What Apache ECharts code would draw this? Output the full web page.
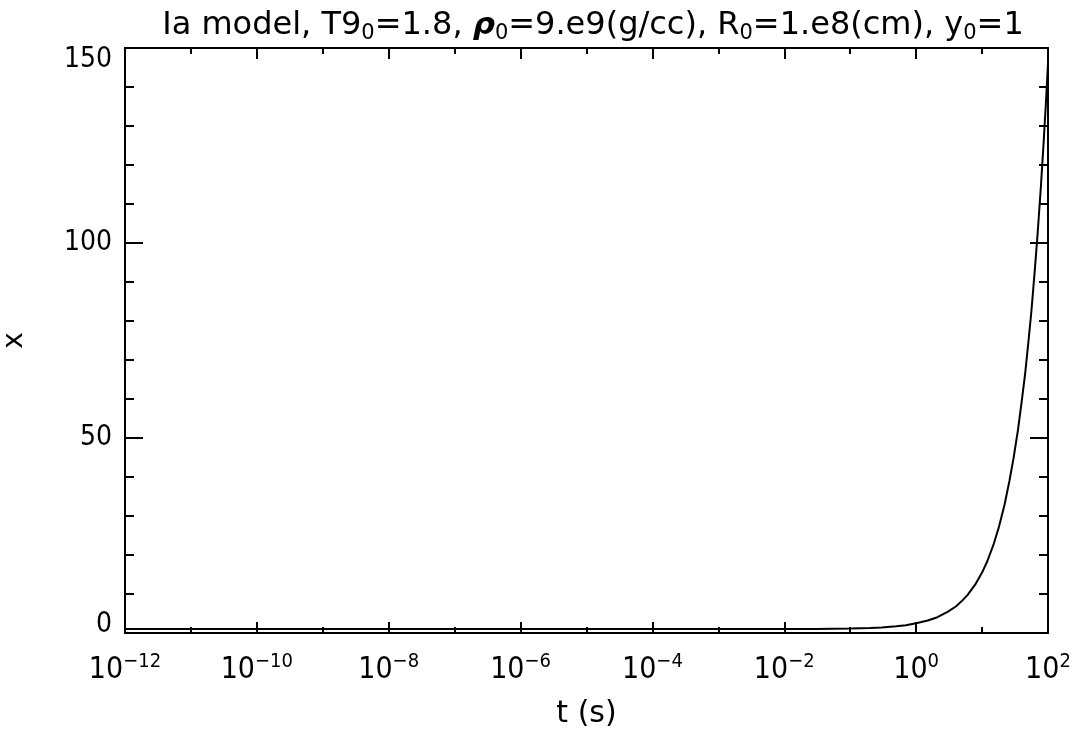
<!DOCTYPE html>
<html>
<head>
<meta charset="utf-8">
<script src="https://cdn.jsdelivr.net/npm/echarts@6/dist/echarts.min.js"></script>
<style>
html,body{margin:0;padding:0;background:#fff;}
#c{width:1077px;height:731px;}
</style>
</head>
<body>
<div id="c"></div>
<script>
// time values (s)
var tValues = [1e-12, 1e-10, 1e-8, 1e-6, 1e-4, 1e-2, 0.03, 0.1, 0.2, 0.3, 0.5, 0.7, 1, 1.5, 2, 3, 4, 5, 6, 8, 10, 12, 15, 18, 22, 26, 30, 35, 40, 45, 50, 56, 63, 70, 78, 86, 93, 100];
// x values
var xValues = [1.0, 1.0, 1.0, 1.0, 1.0, 1.01, 1.04, 1.15, 1.3, 1.44, 1.73, 2.0, 2.5, 3.2, 3.9, 5.4, 6.8, 8.3, 9.7, 12.6, 15.5, 18.4, 22.8, 27.2, 33, 39, 44.8, 52, 59.5, 66.5, 74, 82.5, 93, 103, 114.5, 126, 136, 146];
var yTicks = [0, 50, 100, 150];
var xRange = [1e-12, 1e2];
var yRange = [0, 150];

var FONT = '"DejaVu Sans Condensed", "DejaVu Sans", sans-serif';
var TFONT = '"DejaVu Sans", sans-serif';
var data = tValues.map(function (t, i) { return [t, xValues[i]]; });

function supLabel(v) {
  var e = Math.round(Math.log10(v));
  var s = e < 0 ? '\u2212' + (-e) : '' + e;
  return '{b|10}{e|' + s + '}';
}

var chart = echarts.init(document.getElementById('c'), null, {renderer: 'canvas'});
var axisLine = {show: true, onZero: false, lineStyle: {color: '#000', width: 2}};
var noLine = {show: false, onZero: false};
function xAx(pos, step, len, extra) {
  var o = {
    type: 'log', logBase: 10, min: xRange[0], max: xRange[1], interval: step,
    position: pos,
    axisLine: step === 2 ? axisLine : noLine,
    axisTick: {inside: true, length: len, lineStyle: {color: '#000', width: 2}},
    splitLine: {show: false},
    axisLabel: {show: false}
  };
  if (extra) { for (var k in extra) o[k] = extra[k]; }
  return o;
}
var yTickCommon = {inside: true, length: 18, lineStyle: {color: '#000', width: 2}};
var yMinor = {show: true, splitNumber: 5, length: 9, lineStyle: {color: '#000', width: 2}};
var yLab = {fontFamily: FONT, fontSize: 28, color: '#000'};

chart.setOption({
  animation: false,
  backgroundColor: '#fff',
  title: {
    text: '{n|Ia model, T9}{s|0}{n|=1.8, }{r|\u03C1}{s|0}{n|=9.e9(g/cc), R}{s|0}{n|=1.e8(cm), y}{s|0}{n|=1}',
    left: 588, top: 3, textAlign: 'center',
    textStyle: {
      fontWeight: 'normal',
      rich: {
        n: {fontFamily: TFONT, fontSize: 32, fontWeight: 'normal', color: '#000'},
        r: {fontFamily: TFONT, fontSize: 31, fontWeight: 'bold', fontStyle: 'italic', color: '#000'},
        s: {fontFamily: TFONT, fontSize: 21, fontWeight: 'normal', color: '#000', padding: [15, 0, 0, 0]}
      }
    }
  },
  grid: {left: 125, right: 29, top: 48, bottom: 98, containLabel: false, outerBoundsMode: 'none'},
  xAxis: [
    xAx('bottom', 2, 11, {
      name: 't (s)', nameLocation: 'middle', nameGap: 66,
      nameTextStyle: {fontFamily: TFONT, fontSize: 30, color: '#000'},
      axisLabel: {
        show: true,
        margin: 19,
        formatter: supLabel,
        rich: {
          b: {fontFamily: FONT, fontSize: 30, color: '#000'},
          e: {fontFamily: FONT, fontSize: 20, color: '#000', padding: [0, 0, 17, 0]}
        }
      }
    }),
    xAx('bottom', 1, 6),
    xAx('top', 2, 11),
    xAx('top', 1, 6)
  ],
  yAxis: [{
    type: 'value', min: yRange[0], max: yRange[1], interval: 50,
    position: 'left',
    name: 'x', nameLocation: 'middle', nameGap: 96, nameRotate: 90,
    nameTextStyle: {fontFamily: TFONT, fontSize: 28, color: '#000'},
    axisLine: axisLine,
    axisTick: yTickCommon,
    minorTick: yMinor,
    splitLine: {show: false},
    axisLabel: {
      margin: 13,
      formatter: function (v) {
        if (yTicks.indexOf(v) < 0) return '';
        if (v === yRange[0]) return '{lo|' + v + '}';
        if (v === yRange[1]) return '{hi|' + v + '}';
        return '{m|' + v + '}';
      },
      rich: {
        m: yLab,
        lo: {fontFamily: FONT, fontSize: 28, color: '#000', padding: [0, 0, 16, 0]},
        hi: {fontFamily: FONT, fontSize: 28, color: '#000', padding: [24, 0, 0, 0]}
      }
    }
  }, {
    type: 'value', min: yRange[0], max: yRange[1], interval: 50,
    position: 'right',
    axisLine: axisLine,
    axisTick: yTickCommon,
    minorTick: yMinor,
    splitLine: {show: false},
    axisLabel: {show: false}
  }],
  series: [{
    type: 'line',
    xAxisIndex: 0, yAxisIndex: 0,
    data: data,
    showSymbol: false,
    smooth: false,
    lineStyle: {color: '#000', width: 2},
    clip: true
  }]
});
</script>
</body>
</html>
